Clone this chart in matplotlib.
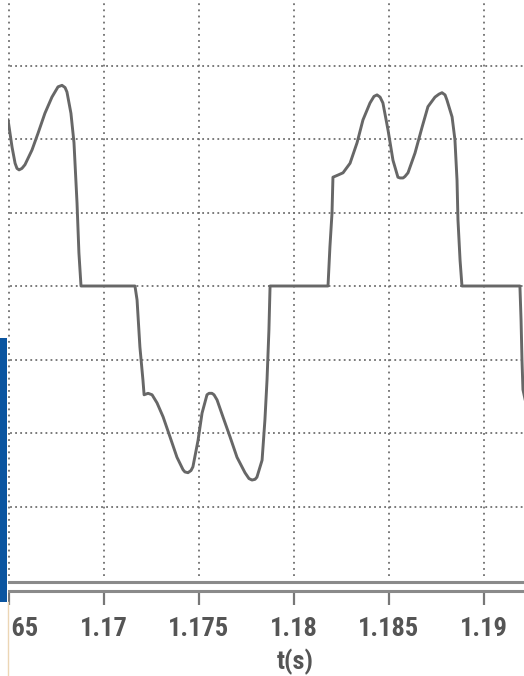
import matplotlib
matplotlib.use("Agg")
import matplotlib.pyplot as plt
from matplotlib import font_manager
from matplotlib.patches import Rectangle
from matplotlib.lines import Line2D

# sampled trace: time (s) and amplitude (grid divisions)
t = [1.16495, 1.16516, 1.16532, 1.16542, 1.16553, 1.16568, 1.16584, 1.16621,
     1.16653, 1.16689, 1.16726, 1.16758, 1.16779, 1.16795, 1.16805, 1.16826,
     1.16842, 1.16858, 1.16868, 1.16879,
     1.17163, 1.17174, 1.17189, 1.17205, 1.17211, 1.17232, 1.17253, 1.17279,
     1.17311, 1.17347, 1.17384, 1.17416, 1.17426, 1.17442, 1.17458, 1.17468,
     1.17495, 1.17516, 1.17542, 1.17553, 1.17568, 1.17579, 1.17595, 1.17626,
     1.17663, 1.17700, 1.17742, 1.17763, 1.17779, 1.17795, 1.17805, 1.17832,
     1.17847, 1.17858, 1.17868, 1.17874,
     1.18179, 1.18189, 1.18200, 1.18205, 1.18232, 1.18258, 1.18295, 1.18332,
     1.18363, 1.18400, 1.18421, 1.18437, 1.18453, 1.18468, 1.18495, 1.18521,
     1.18547, 1.18558, 1.18574, 1.18584, 1.18600, 1.18637, 1.18674, 1.18705,
     1.18742, 1.18763, 1.18779, 1.18795, 1.18805, 1.18832, 1.18847, 1.18858,
     1.18863, 1.18874, 1.18884,
     1.19189, 1.19195, 1.19200, 1.19205, 1.19221]
v = [2.26, 1.89, 1.67, 1.60, 1.58, 1.60, 1.65, 1.85,
     2.08, 2.35, 2.57, 2.71, 2.73, 2.70, 2.64, 2.35,
     1.95, 1.13, 0.45, 0.00,
     0.00, -0.19, -0.83, -1.28, -1.48, -1.46, -1.48, -1.59,
     -1.78, -2.05, -2.33, -2.50, -2.53, -2.54, -2.51, -2.46,
     -2.10, -1.73, -1.48, -1.46, -1.46, -1.48, -1.55, -1.78,
     -2.05, -2.33, -2.54, -2.62, -2.64, -2.63, -2.60, -2.37,
     -1.82, -1.28, -0.60, 0.00,
     0.00, 0.53, 0.99, 1.48, 1.51, 1.54, 1.67, 1.95,
     2.26, 2.49, 2.58, 2.60, 2.57, 2.49, 2.12, 1.71,
     1.48, 1.47, 1.47, 1.49, 1.54, 1.81, 2.16, 2.44,
     2.57, 2.61, 2.63, 2.60, 2.53, 2.30, 1.99, 1.44,
     0.90, 0.35, 0.00,
     0.00, -0.46, -1.01, -1.41, -1.60]

xticks = [1.165, 1.17, 1.175, 1.18, 1.185, 1.19]
xticklabels = ["1.165", "1.17", "1.175", "1.18", "1.185", "1.19"]
ygrid = [-3, -2, -1, 0, 1, 2, 3]

installed = {f.name for f in font_manager.fontManager.ttflist}
fam = [f for f in ["Liberation Sans Narrow", "Roboto Condensed", "Liberation Sans"] if f in installed]
plt.rcParams["font.family"] = fam + ["DejaVu Sans"]

W, H = 524, 676
fig = plt.figure(figsize=(W / 100, H / 100), dpi=100)
fig.patch.set_facecolor("white")

ax = fig.add_axes([0, (H - 591) / H, 1, 591 / H])
ax.set_xlim(1.165 - 9 * 0.005 / 95, 1.165 + 515 * 0.005 / 95)
ax.set_ylim((286 - 591) / 73.5, 286 / 73.5)

grid_col = "#707070"
for y in ygrid:
    ax.axhline(y, color=grid_col, lw=1.3, ls=(0, (1.0, 1.8)), zorder=1)
ax.vlines(xticks, -3.95, 4.0, color=grid_col, lw=1.3, linestyles=[(0, (1.0, 2.4))], zorder=1)

ax.plot(t, v, color="#676767", lw=2.1, solid_joinstyle="round", zorder=3)

# double baseline at the bottom
ax.axhline(-4.03, color="#8a8a8a", lw=2.2, zorder=2)
for s in ["top", "left", "right"]:
    ax.spines[s].set_visible(False)
ax.spines["bottom"].set_color("#8a8a8a")
ax.spines["bottom"].set_linewidth(2.2)

ax.set_xticks(xticks)
ax.set_xticklabels(xticklabels)
ax.set_yticks([])
ax.tick_params(axis="x", direction="out", length=10, width=1.6, color="#777777",
               pad=9, labelsize=19, labelcolor="#555555")
for lab in ax.get_xticklabels():
    lab.set_fontweight("bold")

fig.text(295 / W, (H - 662) / H, "t(s)", ha="center", va="center",
         fontsize=19, fontweight="bold", color="#555555")

# left margin strip and blue bar
fig.patches.append(Rectangle((0, 0), 7.5 / W, 1, transform=fig.transFigure,
                             facecolor="white", edgecolor="none", zorder=5))
fig.patches.append(Rectangle((0, (H - 602) / H), 7 / W, 264 / H, transform=fig.transFigure,
                             facecolor="#0b55a0", edgecolor="none", zorder=6))
fig.lines.append(Line2D([7.5 / W, 7.5 / W], [0, (H - 602) / H], transform=fig.transFigure,
                        color="#ecd6b4", lw=1.0, zorder=6))

fig.savefig("out.png", dpi=100)
plt.close(fig)
